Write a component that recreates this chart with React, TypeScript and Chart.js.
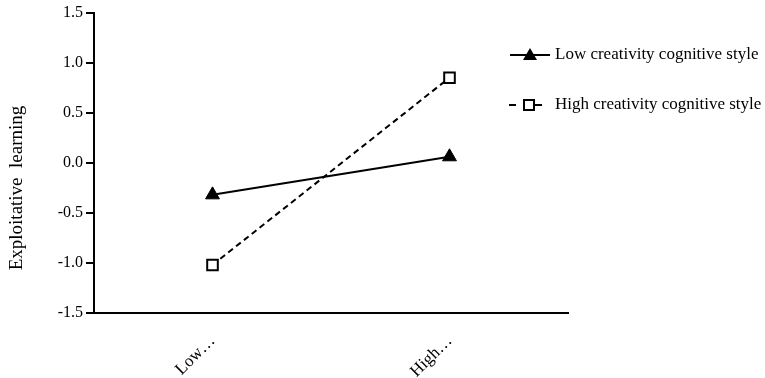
import React, { useEffect, useRef } from "react";
import { Chart, registerables } from "chart.js";

Chart.register(...registerables);

const categories = ["Low…", "High…"];
const lowCreativity = [-0.32, 0.06];
const highCreativity = [-1.02, 0.85];
const seriesNames = ["Low creativity cognitive style", "High creativity cognitive style"];
const yTitle = "Exploitative  learning";

const FONT = "'Liberation Serif', 'Times New Roman', serif";

const overlay = {
  id: "overlay",
  afterDraw(chart: any) {
    const ctx = chart.ctx;
    ctx.save();
    ctx.fillStyle = "#000";
    ctx.font = `19px ${FONT}`;
    ctx.textAlign = "center";
    ctx.textBaseline = "middle";
    ctx.translate(17, 188);
    ctx.rotate(-Math.PI / 2);
    ctx.fillText(yTitle, 0, 0);
    ctx.restore();

    ctx.save();
    const ds0 = chart.data.datasets[0];
    const ds1 = chart.data.datasets[1];
    ctx.strokeStyle = "#000";
    ctx.lineWidth = 2;
    // item 1
    let y = 55;
    ctx.beginPath();
    ctx.moveTo(510, y);
    ctx.lineTo(550, y);
    ctx.stroke();
    ctx.fillStyle = "#000";
    ctx.beginPath();
    ctx.moveTo(530, y - 7);
    ctx.lineTo(537, y + 5);
    ctx.lineTo(523, y + 5);
    ctx.closePath();
    ctx.fill();
    ctx.font = `17px ${FONT}`;
    ctx.textAlign = "left";
    ctx.textBaseline = "middle";
    ctx.fillText(ds0.label, 555, y);
    // item 2
    y = 105;
    ctx.beginPath();
    ctx.moveTo(509, y);
    ctx.lineTo(516, y);
    ctx.moveTo(534, y);
    ctx.lineTo(542, y);
    ctx.stroke();
    ctx.fillStyle = "#fff";
    ctx.fillRect(524, y - 5, 10, 10);
    ctx.strokeRect(524, y - 5, 10, 10);
    ctx.fillStyle = "#000";
    ctx.fillText(ds1.label, 555, y);
    ctx.restore();
  },
};

export default function App() {
  const ref = useRef<HTMLCanvasElement>(null);
  useEffect(() => {
    document.body.style.margin = "0";
    const chart = new Chart(ref.current!, {
      type: "line",
      data: {
        labels: categories,
        datasets: [
          {
            label: seriesNames[0],
            data: lowCreativity,
            borderColor: "#000",
            backgroundColor: "#000",
            borderWidth: 2,
            pointStyle: "triangle",
            pointRadius: 8,
            pointBorderWidth: 1,
            pointBackgroundColor: "#000",
          },
          {
            label: seriesNames[1],
            data: highCreativity,
            borderColor: "#000",
            backgroundColor: "#fff",
            borderWidth: 2,
            borderDash: [6, 4],
            pointStyle: "rect",
            pointRadius: 7.5,
            pointBorderWidth: 2,
            pointBackgroundColor: "#fff",
          },
        ],
      },
      options: {
        animation: false,
        responsive: false,
        layout: { padding: { top: 12, right: 197, left: 0, bottom: 0 } },
        plugins: { legend: { display: false }, tooltip: { enabled: false } },
        scales: {
          x: {
            offset: true,
            grid: { display: false },
            border: { display: true, color: "#000", width: 2 },
            ticks: {
              color: "#000",
              font: { family: FONT, size: 17 },
              minRotation: 45,
              maxRotation: 45,
              padding: 10,
            },
            afterFit: (s: any) => {
              s.height = 65;
            },
          },
          y: {
            min: -1.5,
            max: 1.5,
            grid: { drawOnChartArea: false, tickLength: 8, color: "#000", lineWidth: 2 },
            border: { color: "#000", width: 2 },
            ticks: {
              stepSize: 0.5,
              color: "#000",
              font: { family: FONT, size: 16 },
              padding: 3,
              callback: (v: any) => Number(v).toFixed(1),
            },
            afterFit: (s: any) => {
              s.width = 94;
            },
          },
        },
      },
      plugins: [overlay],
    });
    return () => chart.destroy();
  }, []);
  return <canvas ref={ref} width={765} height={378} style={{ display: "block" }} />;
}
